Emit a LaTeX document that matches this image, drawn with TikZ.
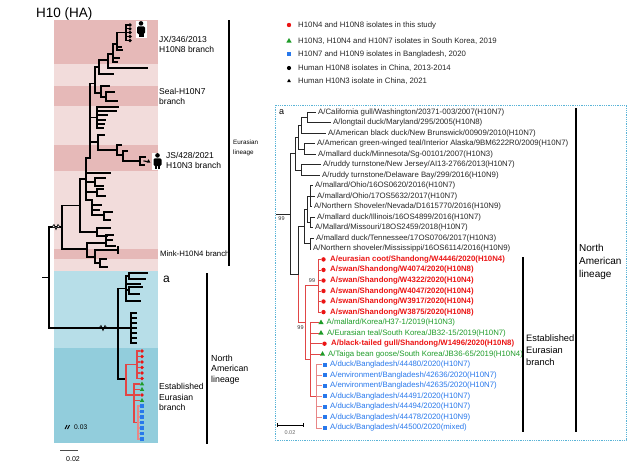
\documentclass[tikz,border=0pt]{standalone}
\usepackage{fontspec}
\setmainfont{Liberation Sans}
\usetikzlibrary{shapes.geometric}
\definecolor{dpink}{HTML}{E6B9B8}
\definecolor{lpink}{HTML}{F2DCDB}
\definecolor{lblue}{HTML}{B7DEE8}
\definecolor{mblue}{HTML}{92CDDC}
\definecolor{tred}{RGB}{235,20,20}
\definecolor{lred}{RGB}{225,70,70}
\definecolor{pred}{RGB}{232,135,135}
\definecolor{tgreen}{RGB}{30,155,40}
\definecolor{tblue}{RGB}{40,120,235}
\definecolor{boxc}{RGB}{90,180,215}
\tikzset{
  human/.pic={
    \fill[white] (-5.5,-8.5) rectangle (5.5,8.5);
    \fill[black] (0,-5.6) circle (2.3);
    \fill[black,rounded corners=1.3pt] (-4,-2.6) rectangle (4,5);
    \fill[black] (-2.5,3.5) rectangle (-0.4,8.2);
    \fill[black] (0.4,3.5) rectangle (2.5,8.2);
  }
}
\begin{document}
\begin{tikzpicture}[x=1pt,y=-1pt,
  tl/.style={line width=1.1pt,line cap=rect},
  tr/.style={line width=0.7pt,black!85},
  lbar/.style={line width=1.8pt},
  rl/.style={anchor=west,inner sep=0pt,font=\fontsize{7.8}{9}\selectfont,text=black!85},
  rlr/.style={rl,font=\fontsize{7.8}{9}\selectfont\bfseries,text=tred},
  rlg/.style={rl,text=tgreen},
  rlb/.style={rl,text=tblue},
  rdot/.style={circle,fill=tred,inner sep=0pt,minimum size=4.4pt},
  gtri/.style={regular polygon,regular polygon sides=3,fill=tgreen,inner sep=0pt,minimum size=6pt},
  bsq/.style={rectangle,fill=tblue,inner sep=0pt,minimum size=4pt},
  ldot/.style={circle,fill=tred,inner sep=0pt,minimum size=3.8pt},
  ltri/.style={regular polygon,regular polygon sides=3,fill=tgreen,inner sep=0pt,minimum size=5pt},
  lsq/.style={rectangle,fill=tblue,inner sep=0pt,minimum size=3.6pt},
  kdot/.style={circle,fill=black,inner sep=0pt,minimum size=3.6pt},
  ktri/.style={regular polygon,regular polygon sides=3,fill=black,inner sep=0pt,minimum size=4.5pt},
  leg/.style={anchor=west,inner sep=0pt,font=\fontsize{7.8}{9}\selectfont,text=black!85},
  sup/.style={inner sep=0pt,font=\fontsize{5.5}{6}\selectfont,text=black!80},
  lab/.style={anchor=west,inner sep=0pt,align=left,font=\fontsize{8.5}{10}\selectfont}
]
\useasboundingbox (0,0) rectangle (640,464);

% ---------- title ----------
\node[anchor=west,inner sep=0pt,font=\fontsize{13.5}{15}\selectfont] (title) at (36,14) {H10 (HA)};

% ---------- left panel backgrounds ----------
\fill[dpink] (54,20) rectangle (158,64);
\fill[lpink] (54,64) rectangle (158,86);
\fill[dpink] (54,86) rectangle (158,106);
\fill[lpink] (54,106) rectangle (158,145);
\fill[dpink] (54,145) rectangle (158,171);
\fill[lpink] (54,171) rectangle (158,249);
\fill[dpink] (54,249) rectangle (158,259);
\fill[lpink] (54,259) rectangle (158,271);
\fill[lblue] (54,271) rectangle (158,348);
\fill[mblue] (54,348) rectangle (158,443);

% ---------- left tree ----------
\begin{scope}[tl]
% root
\draw (43,277.5) -- (49,277.5);
\draw (49,227) -- (49,328);
\draw (49,227) -- (62,227);
\draw (62,205.5) -- (62,249);
\draw (62,205.5) -- (80,205.5);
\draw (80,179) -- (80,232);
\draw (80,232) -- (97,232);
\draw (97,228) -- (97,236);
\draw (97,228) -- (110,228);
\draw (97,236) -- (107,236);
\draw (80,179) -- (86,179);
\draw (86,158) -- (86,200);
\draw (86,158) -- (90,158);
\draw (90,83.5) -- (90,158);
% children of x86
\draw (86,173) -- (110,173);
\draw (86,182) -- (95,182); \draw (95,178) -- (95,186);
\draw (95,178) -- (105,178); \draw (95,186) -- (103,186);
\draw (86,192) -- (97,192); \draw (97,189) -- (97,196);
\draw (97,189) -- (103,189); \draw (97,196) -- (105,196);
\draw (86,200) -- (92,200); \draw (92,200) -- (92,215);
\draw (92,205) -- (101,205); \draw (92,210) -- (99,210);
\draw (92,215) -- (104,215); \draw (104,212) -- (104,220);
\draw (104,212) -- (112,212); \draw (104,220) -- (110,220);
% upper part
\draw (90,83.5) -- (95,83.5);
\draw (95,67) -- (95,93);
\draw (95,67) -- (99,67);
\draw (99,60) -- (99,74);
\draw (99,74) -- (113,74);
\draw (99,60) -- (108,60);
\draw (108,54) -- (108,68);
\draw (108,68) -- (147,68);
\draw (108,54) -- (113,54);
\draw (113,44) -- (113,62);
\draw (113,58) -- (119,58);
\draw (113,62) -- (117,62);
\draw (113,44) -- (117,44);
\draw (117,32.5) -- (117,50);
\draw (117,47) -- (121,47);
\draw (117,50) -- (122,50);
\draw (117,32.5) -- (126,32.5);
\draw (126,25) -- (126,40.5);
% seal
\draw (95,93) -- (101,93);
\draw (101,86) -- (101,97);
\draw (101,86) -- (109,86);
\draw (101,97) -- (106,97);
\draw (106,92) -- (106,101);
\draw (106,92) -- (114,92);
\draw (106,101) -- (117,101);
% comb 107-128
\draw (90,117.5) -- (97,117.5);
\draw (97,107) -- (97,128);
\draw (97,107) -- (118,107);
\draw (97,111) -- (116,111);
\draw (97,115) -- (107,115);
\draw (97,120) -- (105,120);
\draw (97,124) -- (104,124);
\draw (97,128) -- (103,128);
% JS branch
\draw (90,142) -- (98,142);
\draw (98,135) -- (98,150);
\draw (98,135) -- (104,135);
\draw (98,150) -- (117,150);
\draw (117,145) -- (117,155);
\draw (117,145) -- (121,145);
\draw (117,155) -- (123,155);
\draw (123,151) -- (123,161);
\draw (123,151) -- (127,151);
\draw (123,161) -- (140,161);
\draw (140,157) -- (140,165);
\draw (140,157) -- (145,157);
\draw (140,165) -- (144,165);
% Mink clade
\draw (62,249) -- (87,249);
\draw (87,243) -- (87,257);
\draw (87,243) -- (106,243);
\draw (106,235) -- (106,246);
\draw (106,235) -- (113,235);
\draw (106,240) -- (112,240);
\draw (106,246) -- (115,246);
\draw (87,257) -- (95,257);
\draw (95,250) -- (95,263);
\draw (95,250) -- (118,250);
\draw (118,247) -- (118,253);
\draw (95,263) -- (100,263);
\draw (100,259) -- (100,267);
\draw (100,259) -- (106,259);
\draw (100,267) -- (107,267);
% North American part
\draw (49,328) -- (118,328);
\draw (118,288.5) -- (118,379);
\draw (118,288.5) -- (126,288.5);
\draw (126,276) -- (126,301);
\draw (126,276) -- (129,276);
\draw (129,273) -- (129,279);
\draw (129,273) -- (147,273);
\draw (129,279) -- (145,279);
\draw (126,284) -- (140,284);
\draw (126,290) -- (129,290);
\draw (129,287) -- (129,294);
\draw (129,287) -- (142,287);
\draw (129,294) -- (139,294);
\draw (126,301) -- (140,301);
\draw (118,328) -- (131,328);
\draw (131,313) -- (131,343);
\foreach \yy in {313,318,323,328,333,338,343} \draw (131,\yy) -- (136,\yy);
\draw (118,379) -- (126,379);
% red part
\draw[lred] (126,364.75) -- (126,395);
\draw[lred] (126,364.75) -- (137,364.75);
\draw[lred] (137,351) -- (137,378.5);
\draw[lred] (126,395) -- (134,395);
\draw[lred] (134,384) -- (134,422.5);
\draw[lred] (134,422.5) -- (138,422.5);
\draw[pred] (138,406) -- (138,439);
\end{scope}
% break marks
\draw[line width=0.7pt,fill=white] (52,227) -- (54,224.5) -- (56,229.5) -- (58,224.5) -- (60,227);
\draw[line width=0.7pt] (99,328) -- (101,325.5) -- (103,330.5) -- (105,325.5) -- (107,328);

% left markers
\foreach \k/\st in {0/ldot,1/ldot,2/ldot,3/ldot,4/ldot,5/ldot,6/ltri,7/ltri,8/ldot,9/ltri,10/lsq,11/lsq,12/lsq,13/lsq,14/lsq,15/lsq,16/lsq}
  \node[\st] (lm\k) at (142,{351+5.5*\k}) {};
\foreach \k in {0,...,5} \draw[lred,line width=1.1pt] (137,{351+5.5*\k}) -- (lm\k.west);
\foreach \k in {6,...,9} \draw[lred,line width=1.1pt] (134,{351+5.5*\k}) -- (lm\k.west);
\foreach \k in {10,...,16} \draw[pred,line width=1.1pt] (138,{351+5.5*\k}) -- (lm\k.west);
% human H10N8 dots
\foreach \yy [count=\i] in {25,28.8,32.5,36.5,40.5} {
  \node[kdot] (hd\i) at (130,\yy) {};
  \draw[tl] (126,\yy) -- (hd\i.west);
}
\pic at (141,29) {human};
\node[ktri] (jst) at (148.5,161.5) {};
\draw[tl] (144,161) -- (jst.west);
\pic at (157.5,161) {human};

% left labels
\node[lab] (jx) at (159,44) {JX/346/2013\\H10N8 branch};
\node[lab] (seal) at (159,96) {Seal-H10N7\\branch};
\node[lab] (js) at (166,160) {JS/428/2021\\H10N3 branch};
\node[anchor=west,inner sep=0pt,font=\fontsize{7.8}{9}\selectfont] (mink) at (160,254) {Mink-H10N4 branch};
\node[anchor=west,inner sep=0pt,font=\fontsize{12}{13}\selectfont] (la) at (163,279) {a};
\node[anchor=west,inner sep=0pt,align=left,font=\fontsize{8.6}{10.5}\selectfont] (leb) at (159,397) {Established\\Eurasian\\branch};
\node[anchor=west,inner sep=0pt,align=left,font=\fontsize{8.8}{10.5}\selectfont] (lna) at (211,369.5) {North\\American\\lineage};
\node[anchor=west,inner sep=0pt,align=left,font=\fontsize{6.3}{10}\selectfont] (leu) at (233,148) {Eurasian\\lineage};
\draw[lbar] (229,20) -- (229,266);
\draw[lbar] (207,273) -- (207,444);

% left scale
\draw[line width=0.9pt] (65,429) -- (67,425) (67.5,429) -- (69.5,425);
\node[anchor=west,inner sep=0pt,font=\fontsize{6.7}{7}\selectfont] (s03) at (74,427) {0.03};
\draw[line width=0.8pt,black!70] (60,450) -- (78,450);
\node[inner sep=0pt,font=\fontsize{7}{8}\selectfont] (s02) at (73,459) {0.02};

% ---------- legend ----------
\node[rdot] (k1) at (289,25) {};
\node[gtri] (k2) at (289,41) {};
\node[bsq] (k3) at (289,54) {};
\node[kdot,minimum size=4.2pt] (k4) at (289,68) {};
\node[ktri] (k5) at (289,81) {};
\node[leg] (t1) at (298,25) {H10N4 and H10N8 isolates in this study};
\node[leg] (t2) at (298,41) {H10N3, H10N4 and H10N7 isolates in South Korea, 2019};
\node[leg] (t3) at (298,54) {H10N7 and H10N9 isolates in Bangladesh, 2020};
\node[leg] (t4) at (298,68) {Human H10N8 isolates in China, 2013-2014};
\node[leg] (t5) at (298,81) {Human H10N3 isolate in China, 2021};

% ---------- right panel ----------
\draw[boxc,densely dotted,line width=0.8pt] (275,105) rectangle (626,440);
\node[anchor=west,inner sep=0pt,font=\fontsize{9}{10}\selectfont] (ra) at (279,112) {a};

\node[rl] (L1) at (318,112.0) {A/California gull/Washington/20371-003/2007(H10N7)};
\node[rl] (L2) at (333,122.5) {A/longtail duck/Maryland/295/2005(H10N8)};
\node[rl] (L3) at (328,133.1) {A/American black duck/New Brunswick/00909/2010(H10N7)};
\node[rl] (L4) at (317,143.6) {A/American green-winged teal/Interior Alaska/9BM6222R0/2009(H10N7)};
\node[rl] (L5) at (318,154.1) {A/mallard duck/Minnesota/Sg-00101/2007(H10N3)};
\node[rl] (L6) at (323,164.7) {A/ruddy turnstone/New Jersey/AI13-2766/2013(H10N7)};
\node[rl] (L7) at (322,175.2) {A/ruddy turnstone/Delaware Bay/299/2016(H10N9)};
\node[rl] (L8) at (315,185.7) {A/mallard/Ohio/16OS0620/2016(H10N7)};
\node[rl] (L9) at (317,196.2) {A/mallard/Ohio/17OS5632/2017(H10N7)};
\node[rl] (L10) at (314,206.8) {A/Northern Shoveler/Nevada/D1615770/2016(H10N9)};
\node[rl] (L11) at (317,217.3) {A/mallard duck/Illinois/16OS4899/2016(H10N7)};
\node[rl] (L12) at (315,227.8) {A/Mallard/Missouri/18OS2459/2018(H10N7)};
\node[rl] (L13) at (316,238.4) {A/mallard duck/Tennessee/17OS0706/2017(H10N3)};
\node[rl] (L14) at (313,248.9) {A/Northern shoveler/Mississippi/16OS6114/2016(H10N9)};
\node[rlr] (L15) at (330,259.4) {A/eurasian coot/Shandong/W4446/2020(H10N4)};
\node[rlr] (L16) at (330,269.9) {A/swan/Shandong/W4074/2020(H10N8)};
\node[rlr] (L17) at (330,280.5) {A/swan/Shandong/W4322/2020(H10N4)};
\node[rlr] (L18) at (330,291.0) {A/swan/Shandong/W4047/2020(H10N4)};
\node[rlr] (L19) at (330,301.5) {A/swan/Shandong/W3917/2020(H10N4)};
\node[rlr] (L20) at (330,312.1) {A/swan/Shandong/W3875/2020(H10N8)};
\node[rlg] (L21) at (326.5,322.6) {A/mallard/Korea/H37-1/2019(H10N3)};
\node[rlg] (L22) at (327,333.1) {A/Eurasian teal/South Korea/JB32-15/2019(H10N7)};
\node[rlr] (L23) at (331,343.7) {A/black-tailed gull/Shandong/W1496/2020(H10N8)};
\node[rlg] (L24) at (328,354.2) {A/Taiga bean goose/South Korea/JB36-65/2019(H10N4)};
\node[rlb] (L25) at (330,364.7) {A/duck/Bangladesh/44480/2020(H10N7)};
\node[rlb] (L26) at (330,375.3) {A/environment/Bangladesh/42636/2020(H10N7)};
\node[rlb] (L27) at (330,385.8) {A/environment/Bangladesh/42635/2020(H10N7)};
\node[rlb] (L28) at (330,396.3) {A/duck/Bangladesh/44491/2020(H10N7)};
\node[rlb] (L29) at (330,406.8) {A/duck/Bangladesh/44494/2020(H10N7)};
\node[rlb] (L30) at (330,417.4) {A/duck/Bangladesh/44478/2020(H10N9)};
\node[rlb] (L31) at (330,427.9) {A/duck/Bangladesh/44500/2020(mixed)};

% right markers
\foreach \i/\yy in {15/259.4,16/269.9,17/280.5,18/291.0,19/301.5,20/312.1}
  \node[rdot] (m\i) at (323.5,\yy) {};
\node[gtri] (m21) at (321,322.6) {};
\node[gtri] (m22) at (321,333.1) {};
\node[rdot] (m23) at (324.5,343.7) {};
\node[gtri] (m24) at (322.5,354.2) {};
\foreach \i/\yy in {25/364.7,26/375.3,27/385.8,28/396.3,29/406.8,30/417.4,31/427.9}
  \node[bsq] (m\i) at (324.5,\yy) {};

% right tree internal nodes
\coordinate (n12) at (307,117.25);
\coordinate (n123) at (301,125.2);
\coordinate (n45) at (304,148.85);
\coordinate (n12345) at (298,137);
\coordinate (n67) at (301,169.95);
\coordinate (nA) at (295,153.5);
\coordinate (n8910) at (310,196.25);
\coordinate (n1112) at (310,222.55);
\coordinate (n1314) at (310,243.65);
\coordinate (nb1) at (307,209.4);
\coordinate (nB) at (304,226.5);
\coordinate (S) at (318,285.75);
\coordinate (G) at (316,396.3);
\coordinate (R) at (310,359.5);
\coordinate (E) at (305,322.7);
\coordinate (N2) at (298,274.6);
\coordinate (N1) at (290,214);
\coordinate (rt) at (276,214);

\begin{scope}[tr]
\draw (rt) -- (N1);
\draw (N1) |- (nA); \draw (N1) |- (N2);
\draw (nA) |- (n12345); \draw (nA) |- (n67);
\draw (n12345) |- (n123); \draw (n12345) |- (n45);
\draw (n123) |- (n12); \draw (n123) |- ([xshift=-2pt]L3.west);
\draw (n12) |- ([xshift=-2pt]L1.west); \draw (n12) |- ([xshift=-2pt]L2.west);
\draw (n45) |- ([xshift=-2pt]L4.west); \draw (n45) |- ([xshift=-2pt]L5.west);
\draw (n67) |- ([xshift=-2pt]L6.west); \draw (n67) |- ([xshift=-2pt]L7.west);
\draw (N2) |- (nB);
\draw (nB) |- (nb1); \draw (nB) |- (n1314);
\draw (nb1) |- (n8910); \draw (nb1) |- (n1112);
\draw (n8910) |- ([xshift=-2pt]L8.west); \draw (n8910) |- ([xshift=-2pt]L9.west); \draw (n8910) |- ([xshift=-2pt]L10.west);
\draw (n1112) |- ([xshift=-2pt]L11.west); \draw (n1112) |- ([xshift=-2pt]L12.west);
\draw (n1314) |- ([xshift=-2pt]L13.west); \draw (n1314) |- ([xshift=-2pt]L14.west);
\end{scope}
\begin{scope}[tr,lred]
\draw (N2) |- (E);
\draw (E) |- (S); \draw (E) |- (R);
\foreach \i in {15,...,20} \draw (S) |- (m\i.west);
\foreach \i in {21,...,24} \draw (R) |- (m\i.west);
\draw (R) |- (G);
\end{scope}
\begin{scope}[tr,pred]
\foreach \i in {25,...,31} \draw (G) |- (m\i.west);
\end{scope}
\node[sup] (s1) at (281.5,219) {99};
\node[sup] (s2) at (300.5,328) {99};
\node[sup] (s3) at (312,281) {99};

% right scale
\draw[line width=0.8pt] (277,425) -- (303,425);
\draw[line width=0.6pt] (277,423) -- (277,427) (303,423) -- (303,427);
\node[sup,text=black!60] (rs) at (290,433) {0.02};

% right bars and labels
\draw[lbar] (576,108) -- (576,432);
\draw[lbar] (523,257) -- (523,432);
\node[anchor=west,inner sep=0pt,align=left,font=\fontsize{10}{13}\selectfont] (rna) at (579,262) {North\\American\\lineage};
\node[anchor=west,inner sep=0pt,align=left,font=\fontsize{9.3}{12}\selectfont] (reb) at (526,350) {Established\\Eurasian\\branch};
\end{tikzpicture}
\end{document}
